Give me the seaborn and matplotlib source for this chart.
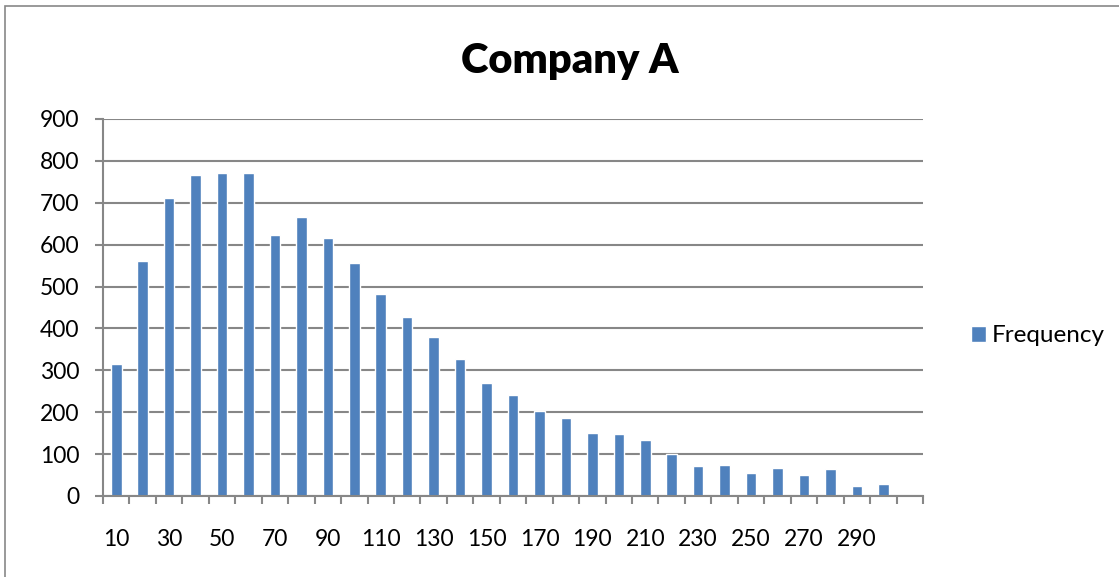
import matplotlib
matplotlib.use("Agg")
import matplotlib.pyplot as plt
from matplotlib.patches import Rectangle
import seaborn as sns
import pandas as pd

# Histogram bins (upper edge of each bin) and counts
bins = [10, 20, 30, 40, 50, 60, 70, 80, 90, 100,
        110, 120, 130, 140, 150, 160, 170, 180, 190, 200,
        210, 220, 230, 240, 250, 260, 270, 280, 290, 300]
frequency = [316, 562, 712, 767, 771, 771, 624, 665, 617, 556,
             483, 427, 379, 328, 269, 240, 204, 187, 150, 147,
             134, 100, 71, 75, 54, 67, 51, 65, 23, 28]
# category axis carries one trailing empty slot
categories = [str(b) for b in bins] + [""]
y_ticks = [0, 100, 200, 300, 400, 500, 600, 700, 800, 900]

title = "Company A"
series_name = "Frequency"
bar_color = "#4F81BD"
grid_color = "#878787"

sns.set_theme(style="white")
plt.rcParams["font.family"] = ["Lato", "DejaVu Sans"]
plt.rcParams["text.color"] = "black"
plt.rcParams["xtick.labelcolor"] = "black"
plt.rcParams["ytick.labelcolor"] = "black"

df = pd.DataFrame({"bin": [str(b) for b in bins], "count": frequency})

W, H = 1119, 577
fig = plt.figure(figsize=(W / 100, H / 100), dpi=100)
ax = fig.add_axes([103 / W, 1 - 496 / H, 820 / W, 377 / H])

sns.barplot(data=df, x="bin", y="count", order=categories, color=bar_color,
            width=0.40, saturation=1, label=series_name, ax=ax)

ax.set_xlim(-0.5, len(categories) - 0.5)
ax.set_ylim(0, 900)
ax.set_yticks(y_ticks)
ax.set_yticklabels([str(v) for v in y_ticks], fontsize=16.5, color="black")
ax.yaxis.grid(True, color=grid_color, linewidth=1.5)
ax.set_axisbelow(True)

# tick marks at category boundaries, labels at every other category centre
ax.set_xticks([i - 0.5 for i in range(len(categories) + 1)])
ax.set_xticklabels([])
ax.set_xticks(list(range(0, len(bins), 2)), minor=True)
ax.set_xticklabels([categories[i] for i in range(0, len(bins), 2)], minor=True,
                   fontsize=16.5, color="black")
ax.tick_params(axis="x", which="major", length=6, width=1.5, color=grid_color, direction="out", bottom=True)
ax.tick_params(axis="x", which="minor", length=0, pad=24)
ax.tick_params(axis="y", length=6, width=1.5, color=grid_color, direction="out", left=True, pad=11)

for side in ("top", "right"):
    ax.spines[side].set_visible(False)
for side in ("left", "bottom"):
    ax.spines[side].set_color(grid_color)
    ax.spines[side].set_linewidth(1.5)

ax.set_xlabel("")
ax.set_ylabel("")

fig.text(570 / W, 1 - 73.5 / H, title, ha="center", va="baseline",
         fontsize=30, fontweight="heavy", color="black")

leg = ax.legend(loc="center left", bbox_to_anchor=(971 / W, 1 - 336 / H),
                bbox_transform=fig.transFigure, frameon=False, fontsize=17.5,
                handlelength=0.6, handleheight=0.6, handletextpad=0.25,
                borderaxespad=0, borderpad=0)
for txt in leg.get_texts():
    txt.set_color("black")

# chart-area frame
fig.add_artist(Rectangle((4.5 / W, -0.1), 1.2, 1.1 - 6.5 / H,
                         transform=fig.transFigure, fill=False,
                         edgecolor=grid_color, linewidth=1.2))

fig.savefig("out.png", dpi=100)
